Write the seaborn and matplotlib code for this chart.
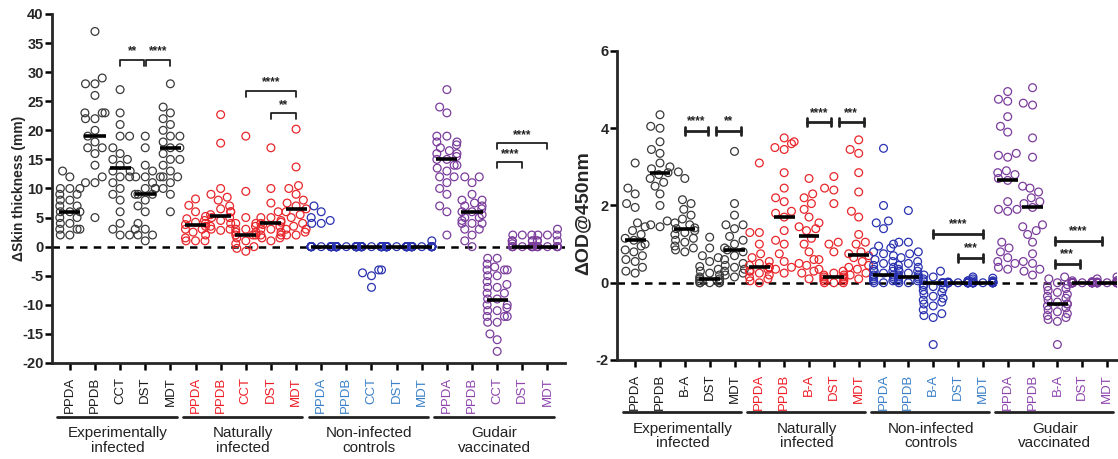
import matplotlib
matplotlib.use("Agg")
import matplotlib.pyplot as plt
import seaborn as sns
import pandas as pd
import numpy as np

# ---------------------------------------------------------------------------
# Data
# ---------------------------------------------------------------------------
group_names = ["Experimentally\ninfected", "Naturally\ninfected",
               "Non-infected\ncontrols", "Gudair\nvaccinated"]
skin_tests = ["PPDA", "PPDB", "CCT", "DST", "MDT"]
elisa_tests = ["PPDA", "PPDB", "B-A", "DST", "MDT"]

# skin thickness increase (mm), one list per test: PPDA, PPDB, CCT, DST, MDT
skin_exp = [
    [13, 12, 10, 10, 10, 9, 9, 8, 8, 7, 7, 6, 6, 6, 5, 5, 4, 4, 3, 3, 3, 2, 2],
    [37, 29, 28, 28, 26, 23, 23, 23, 22, 22, 20, 19, 18, 17, 17, 16, 14, 12, 11, 11, 5],
    [27, 23, 21, 19, 19, 17, 16, 15, 15, 14, 13, 13, 12, 12, 11, 10, 9, 8, 6, 4, 3, 2, 2],
    [19, 17, 14, 13, 12, 12, 11, 10, 10, 10, 9, 9, 9, 8, 7, 6, 4, 3, 3, 2, 2, 1],
    [28, 24, 23, 22, 21, 20, 19, 19, 18, 17, 17, 16, 15, 15, 14, 13, 12, 12, 12, 11, 10, 9, 6],
]
skin_nat = [
    [8.2, 7.1, 6, 5.2, 4.8, 4.5, 4.2, 4, 3.8, 3.5, 3, 3, 2.5, 2, 1.5, 1, 1, 1],
    [22.7, 17.8, 10, 9, 8.5, 8, 7, 6.5, 6, 6, 5.5, 5, 5, 4.5, 4, 3.5, 3, 3, 2.8],
    [19, 9.5, 5, 4, 4, 3.5, 3, 3, 2.5, 2.5, 2, 2, 2, 1.5, 1, 0.5, 0, -0.3, -0.8],
    [17, 10, 7.5, 6, 5, 5, 4.5, 4.2, 4, 3.8, 3.5, 3, 3, 2.5, 2, 2, 1.5, 1.5, 1],
    [20.2, 13.7, 10.5, 10, 9, 8, 7.5, 7, 6.5, 6, 5.5, 5, 4, 3.5, 3, 3, 2.5, 2, 2],
]
skin_ctrl = [
    [7, 6, 5, 4.5, 4, 4, 0, 0, 0, 0, 0, 0, 0, 0, 0, 0, 0, 0, 0, 0, 0, 0],
    [0, 0, 0, 0, 0, 0, 0, 0, 0, 0, 0, 0, 0, 0, 0, 0, 0, 0, 0, 0],
    [0, 0, 0, 0, 0, 0, 0, 0, 0, 0, 0, 0, 0, 0, 0, 0, -4, -4, -4.5, -5, -7],
    [0, 0, 0, 0, 0, 0, 0, 0, 0, 0, 0, 0, 0, 0, 0, 0, 0, 0, 0, 0],
    [1, 0, 0, 0, 0, 0, 0, 0, 0, 0, 0, 0, 0, 0, 0, 0, 0, 0, 0],
]
skin_vacc = [
    [27, 24, 23, 19, 19, 18, 18, 17.5, 17, 16.5, 16, 16, 15.5, 15, 15, 14, 14, 13.5,
     13, 12, 12, 11, 10, 9, 7, 6, 2],
    [12, 12, 11, 9, 8, 8, 7.5, 7, 7, 6.5, 6, 6, 5.5, 5, 5, 4.5, 4, 4, 4, 3, 3, 2, 1, 0],
    [-2, -2, -3, -3.5, -4, -4, -4, -5, -5, -6, -6.5, -7, -7, -8, -8, -9, -9, -10, -10,
     -10.5, -11, -11, -12, -12, -12, -13, -13, -15, -16, -18],
    [2, 2, 2, 1, 1, 1, 1, 0.5, 0, 0, 0, 0, 0, 0, 0, 0],
    [3, 2, 2, 2, 1, 1, 1, 0, 0, 0, 0, 0, 0, 0],
]
skin_median = [6, 19, 13.5, 9, 17, 3.8, 5.3, 2, 4, 6.5, 0, 0, 0, 0, 0, 15, 6, -9.2, 0, 0]

# ELISA delta OD@450nm, one list per test: PPDA, PPDB, B-A, DST, MDT
od_exp = [
    [3.1, 2.45, 2.3, 2.05, 1.95, 1.55, 1.45, 1.35, 1.25, 1.15, 1.1, 1.0, 0.95, 0.85,
     0.8, 0.7, 0.6, 0.55, 0.4, 0.3, 0.25],
    [4.35, 4.05, 4.0, 3.65, 3.45, 3.35, 3.1, 3.0, 2.95, 2.85, 2.8, 2.7, 2.6, 2.5, 2.3,
     2.0, 1.6, 1.5, 1.45],
    [2.87, 2.7, 2.15, 2.05, 1.9, 1.75, 1.65, 1.55, 1.5, 1.42, 1.4, 1.35, 1.3, 1.25,
     1.15, 1.1, 1.05, 0.95, 0.9, 0.85, 0.8],
    [1.18, 0.9, 0.7, 0.65, 0.55, 0.42, 0.35, 0.3, 0.25, 0.2, 0.15, 0.1, 0.1, 0.05,
     0.05, 0, 0, 0, 0, 0],
    [3.4, 2.05, 1.75, 1.5, 1.5, 1.4, 1.2, 1.1, 1.0, 0.9, 0.85, 0.8, 0.7, 0.6, 0.5,
     0.45, 0.4, 0.35, 0.3, 0.25, 0.2, 0.15],
]
od_nat = [
    [3.1, 1.3, 1.3, 1.0, 0.75, 0.65, 0.55, 0.5, 0.45, 0.4, 0.4, 0.35, 0.3, 0.3, 0.25,
     0.2, 0.15, 0.1, 0.05, 0.0],
    [3.75, 3.65, 3.6, 3.5, 3.45, 2.85, 2.45, 2.2, 2.1, 1.85, 1.8, 1.7, 1.35, 1.1, 1.0,
     0.75, 0.55, 0.4, 0.35, 0.25],
    [2.7, 2.3, 2.2, 2.05, 1.9, 1.7, 1.55, 1.45, 1.4, 1.35, 1.15, 1.0, 0.8, 0.6, 0.6,
     0.5, 0.45, 0.35, 0.3, 0.25, 0.1],
    [2.75, 2.45, 2.4, 2.05, 1.05, 1.0, 0.8, 0.3, 0.25, 0.2, 0.2, 0.15, 0.15, 0.1, 0.1,
     0.05, 0.05, 0, 0, 0],
    [3.7, 3.45, 3.35, 2.85, 2.35, 1.85, 1.7, 1.25, 1.05, 1.0, 0.8, 0.75, 0.7, 0.65,
     0.55, 0.45, 0.4, 0.35, 0.25, 0.2, 0.1],
]
od_ctrl = [
    [3.48, 2.0, 1.6, 1.55, 1.4, 1.0, 0.95, 0.9, 0.8, 0.75, 0.7, 0.6, 0.55, 0.5, 0.45,
     0.4, 0.35, 0.3, 0.3, 0.25, 0.2, 0.2, 0.15, 0.15, 0.1, 0.1, 0.05, 0.05, 0.0, 0.0],
    [1.87, 1.05, 1.05, 0.8, 0.75, 0.65, 0.55, 0.5, 0.45, 0.4, 0.35, 0.3, 0.3, 0.25,
     0.2, 0.2, 0.15, 0.15, 0.1, 0.1, 0.05, 0.05, 0.0, 0.0],
    [0.3, 0.2, 0.15, 0.1, 0.05, 0, 0, 0, -0.05, -0.1, -0.1, -0.15, -0.2, -0.25, -0.3,
     -0.35, -0.4, -0.45, -0.5, -0.55, -0.6, -0.7, -0.8, -0.85, -0.9, -1.6],
    [0.05, 0.05, 0.02, 0, 0, 0, 0, 0, 0, 0, 0, 0, 0, 0, 0, 0, 0, 0, 0, 0],
    [0.15, 0.12, 0.1, 0.05, 0.05, 0.03, 0, 0, 0, 0, 0, 0, 0, 0, 0, 0, 0, 0, 0, 0],
]
od_vacc = [
    [4.95, 4.75, 4.7, 4.3, 4.05, 3.9, 3.35, 3.3, 3.25, 2.9, 2.85, 2.8, 2.7, 2.65, 2.1,
     1.9, 1.9, 1.85, 1.05, 0.9, 0.8, 0.65, 0.55, 0.5, 0.4, 0.35],
    [5.05, 4.65, 4.6, 3.75, 3.25, 2.5, 2.45, 2.35, 2.2, 2.1, 2.05, 1.95, 1.5, 1.45,
     1.35, 1.25, 1.05, 0.75, 0.55, 0.5, 0.35, 0.3, 0.2],
    [0.15, 0.1, 0.0, -0.05, -0.1, -0.15, -0.2, -0.25, -0.3, -0.35, -0.4, -0.45, -0.5,
     -0.55, -0.55, -0.6, -0.65, -0.7, -0.75, -0.8, -0.85, -0.9, -0.95, -1.0, -1.6],
    [0.05, 0.03, 0, 0, 0, 0, 0, 0, 0, 0, 0, 0, 0, 0, 0, 0, 0, 0, 0, 0],
    [0.15, 0.1, 0.05, 0.05, 0.02, 0, 0, 0, 0, 0, 0, 0, 0, 0, 0, 0, 0, 0],
]
od_median = [1.1, 2.85, 1.4, 0.1, 0.85, 0.42, 1.7, 1.2, 0.15, 0.72,
             0.2, 0.15, 0, 0, 0, 2.65, 1.95, -0.55, 0, 0]

# significance brackets: (from, to, height, stars)
skin_sig = [(2, 2.97, 32.1, "**"), (3.03, 4, 32.1, "****"),
            (7, 9, 26.8, "****"), (8, 9, 22.9, "**"),
            (17, 19, 17.8, "****"), (17, 18, 14.5, "****")]
od_sig = [(2, 2.95, 3.94, "****"), (3.25, 4.25, 3.94, "**"),
          (6.9, 7.9, 4.15, "****"), (8.2, 9.2, 4.15, "***"),
          (12, 14, 1.27, "****"), (13, 14, 0.65, "***"),
          (16.9, 18.8, 1.09, "****"), (16.9, 17.9, 0.49, "***")]

point_colors = ["#3a3a3a", "#e8262b", "#2a32b0", "#7b3d9c"]
label_colors = ["#1a1a1a", "#ee1c25", "#3a80c8", "#8e44ad"]


def long_table(groups):
    rows = []
    for g, tests in enumerate(groups):
        for t, vals in enumerate(tests):
            for v in vals:
                rows.append({"key": f"{g}-{t}", "value": v, "group": group_names[g]})
    return pd.DataFrame(rows)


def draw_panel(ax, groups, tests, medians, sig, ylim, yticks, ylabel,
               bracket_style, size):
    df = long_table(groups)
    order = [f"{g}-{t}" for g in range(4) for t in range(5)]
    sns.swarmplot(data=df, x="key", y="value", hue="group", order=order,
                  palette=dict(zip(group_names, point_colors)), size=size,
                  legend=False, warn_thresh=1, ax=ax)
    # hollow circles
    for coll in ax.collections:
        fc = coll.get_facecolors()
        coll.set_edgecolors(fc)
        coll.set_facecolors("none")
        coll.set_linewidth(0.9)
        coll.set_zorder(3)

    xs = np.arange(20)
    ax.hlines(medians, xs - 0.42, xs + 0.42, color="black", lw=2.6, zorder=5)
    ax.axhline(0, color="black", lw=1.8, ls=(0, (3, 2.5)), zorder=2)

    for x1, x2, y, stars in sig:
        if bracket_style == "down":
            leg = (ylim[1] - ylim[0]) * 0.017
            ax.plot([x1, x1, x2, x2], [y - leg, y, y, y - leg], color="#222222",
                    lw=1.3, zorder=6)
            ax.text((x1 + x2) / 2, y + leg * 0.4, stars, ha="center", va="bottom",
                    fontsize=8.5, fontweight="bold", color="#222222")
        else:
            cap = (ylim[1] - ylim[0]) * 0.013
            ax.plot([x1, x2], [y, y], color="#222222", lw=2, zorder=6)
            ax.plot([x1, x1], [y - cap, y + cap], color="#222222", lw=2, zorder=6)
            ax.plot([x2, x2], [y - cap, y + cap], color="#222222", lw=2, zorder=6)
            ax.text((x1 + x2) / 2, y + cap * 0.9, stars, ha="center", va="bottom",
                    fontsize=8.5, fontweight="bold", color="#222222")

    ax.set_ylim(*ylim)
    ax.set_yticks(yticks)
    ax.set_yticklabels([f"{t:g}" for t in yticks], fontweight="bold", fontsize=10.5)
    ax.set_xticks(xs)
    ax.set_xticklabels(tests * 4, rotation=90, fontsize=9.5)
    for i, lab in enumerate(ax.get_xticklabels()):
        lab.set_color(label_colors[i // 5])
    ax.set_xlabel("")
    ax.set_ylabel(ylabel, fontweight="bold")

    for side in ["top", "right"]:
        ax.spines[side].set_visible(False)
    ax.spines["left"].set_linewidth(2)
    ax.spines["bottom"].set_linewidth(2)
    ax.tick_params(axis="both", length=5, width=1.8, color="black")
    ax.tick_params(axis="y", pad=1)
    ax.tick_params(axis="x", pad=5)


sns.set_theme(style="ticks")
plt.rcParams["font.family"] = ["Liberation Sans", "DejaVu Sans"]

fig = plt.figure(figsize=(11.18, 4.59), dpi=100)
ax1 = fig.add_axes([0.0465, 0.2092, 0.4589, 0.7603])
ax2 = fig.add_axes([0.5519, 0.2157, 0.4472, 0.6732])

draw_panel(ax1, [skin_exp, skin_nat, skin_ctrl, skin_vacc], skin_tests, skin_median,
           skin_sig, (-20, 40), list(range(-20, 41, 5)), "\u0394Skin thickness (mm)",
           "down", 5.6)
draw_panel(ax2, [od_exp, od_nat, od_ctrl, od_vacc], elisa_tests, od_median,
           od_sig, (-2, 6), [-2, 0, 2, 4, 6], "\u0394OD@450nm", "ibeam", 5.6)

ax1.set_xlim(-0.71, 19.7)
ax2.set_xlim(-0.73, 19.4)
ax1.yaxis.label.set_fontsize(10)
ax2.yaxis.label.set_fontsize(14)
ax1.yaxis.set_label_coords(-0.05, 0.5)
ax2.yaxis.set_label_coords(-0.052, 0.476)

# group underlines and names below the tick labels
for ax, line_y, text_y in [(ax1, -0.155, -0.222), (ax2, -0.168, -0.246)]:
    trans = ax.get_xaxis_transform()
    for g, name in enumerate(group_names):
        start = g * 5
        ax.plot([start - 0.5, start + 4.25], [line_y, line_y], color="#222222",
                lw=2, transform=trans, clip_on=False)
        ax.text(start + 1.9, text_y, name, transform=trans, ha="center",
                va="center", fontsize=11, linespacing=1.05, color="#222222")

fig.savefig("out.png", dpi=100)
